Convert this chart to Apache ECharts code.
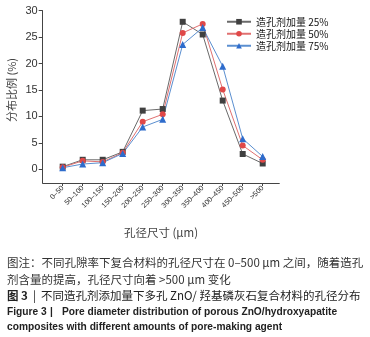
<!DOCTYPE html>
<html><head><meta charset="utf-8">
<script src="https://cdn.jsdelivr.net/npm/echarts@6/dist/echarts.min.js"></script>
<style>html,body{margin:0;padding:0;background:#fff}#c{width:370px;height:337px}</style>
</head><body><div id="c"></div>
<script>
var categories = ['0–50','50–100','100–150','150–200','200–250','250–300','300–350','350–400','400–450','450–500','>500'];
var seriesNames = ['造孔剂加量 25%','造孔剂加量 50%','造孔剂加量 75%'];
var s25 = [0.5, 1.8, 1.8, 3.3, 11.1, 11.4, 27.9, 25.5, 13.0, 2.9, 1.1];
var s50 = [0.4, 1.6, 1.4, 3.15, 9.0, 10.4, 25.8, 27.5, 15.1, 4.5, 1.8];
var s75 = [0.3, 1.0, 1.25, 3.0, 8.0, 9.45, 23.6, 26.8, 19.5, 5.8, 2.4];
var yTicks = [0, 5, 10, 15, 20, 25, 30];
var xAxisName = '孔径尺寸 (μm)';
var yAxisName = '分布比例 (%)';
var captionLines = [
  '图注：不同孔隙率下复合材料的孔径尺寸在 0–500 μm 之间，随着造孔',
  '剂含量的提高，孔径尺寸向着 >500 μm 变化'
];
var figTitleCn = ['图 3', '|', '不同造孔剂添加量下多孔 ZnO/ 羟基磷灰石复合材料的孔径分布'];
var figTitleEn = ['Figure 3', '|', 'Pore diameter distribution of porous ZnO/hydroxyapatite',
                  'composites with different amounts of pore-making agent'];

function pts(arr){ return arr.map(function(v,i){ return [i+1, v]; }); }
var xIdx = categories.map(function(c,i){ return i+1; });

var chart = echarts.init(document.getElementById('c'), null, {renderer:'canvas'});
var cjk = '"Noto Sans CJK SC", "Liberation Sans", sans-serif';
var en = 'bold 10.2px "Liberation Sans"';
chart.setOption({
  animation: false,
  backgroundColor: '#fff',
  grid: {left: 42.7, right: 90.7, top: 10.7, bottom: 154, containLabel: false},
  xAxis: {
    type: 'value', min: 0, max: 11.83,
    axisLine: {onZero: false, lineStyle: {color: '#444', width: 1}},
    axisTick: {show: true, length: 3, customValues: xIdx, lineStyle: {color: '#444'}},
    splitLine: {show: false},
    axisLabel: {customValues: xIdx, rotate: 45, fontSize: 7.2, color: '#333', margin: 4,
      fontFamily: 'Liberation Sans',
      formatter: function(v){ return categories[Math.round(v)-1] || ''; }},
    name: xAxisName, nameLocation: 'middle', nameGap: 44,
    nameTextStyle: {fontSize: 11.5, color: '#444', fontFamily: cjk}
  },
  yAxis: {
    type: 'value', min: -2.59, max: 30,
    axisLine: {show: true, lineStyle: {color: '#444', width: 1}},
    axisTick: {show: true, length: 4, customValues: yTicks, lineStyle: {color: '#444'}},
    splitLine: {show: false},
    axisLabel: {customValues: yTicks, fontSize: 11, color: '#333', margin: 5, fontFamily: 'Liberation Sans'}
  },
  legend: {
    orient: 'vertical', left: 221, top: 11, itemWidth: 24, itemHeight: 7, itemGap: 0.5,
    textStyle: {fontSize: 10, color: '#111', fontFamily: cjk, lineHeight: 11.5},
    data: seriesNames
  },
  series: [
    {name: seriesNames[0], type: 'line', data: pts(s25), symbol: 'rect', symbolSize: 6,
     lineStyle: {color: '#6a6a6a', width: 1}, itemStyle: {color: '#404040'}},
    {name: seriesNames[1], type: 'line', data: pts(s50), symbol: 'circle', symbolSize: 6,
     lineStyle: {color: '#e07070', width: 1}, itemStyle: {color: '#e04848'}},
    {name: seriesNames[2], type: 'line', data: pts(s75), symbol: 'triangle', symbolSize: 7,
     lineStyle: {color: '#5b8fd0', width: 1}, itemStyle: {color: '#2e6ccc'}}
  ],
  graphic: [
    {type: 'text', left: 6, top: 58, rotation: Math.PI/2,
     style: {text: yAxisName, fill: '#444', font: '11px ' + cjk}},
    {type: 'text', x: 7, y: 257, style: {text: captionLines[0], font: '11.5px ' + cjk, fill: '#333'}},
    {type: 'text', x: 7, y: 274, style: {text: captionLines[1], font: '11.5px ' + cjk, fill: '#333'}},
    {type: 'text', x: 7, y: 290, style: {text: figTitleCn[0], font: 'bold 11.5px ' + cjk, fill: '#222'}},
    {type: 'text', x: 33, y: 290, style: {text: figTitleCn[1], font: '11.5px ' + cjk, fill: '#222'}},
    {type: 'text', x: 41, y: 290, style: {text: figTitleCn[2], font: '11.5px ' + cjk, fill: '#222'}},
    {type: 'text', x: 7, y: 307, style: {text: figTitleEn[0], font: en, fill: '#222'}},
    {type: 'text', x: 50, y: 307, style: {text: figTitleEn[1], font: en, fill: '#222'}},
    {type: 'text', x: 62, y: 307, style: {text: figTitleEn[2], font: en, fill: '#222'}},
    {type: 'text', x: 7, y: 322, style: {text: figTitleEn[3], font: en, fill: '#222'}}
  ]
});
</script></body></html>
